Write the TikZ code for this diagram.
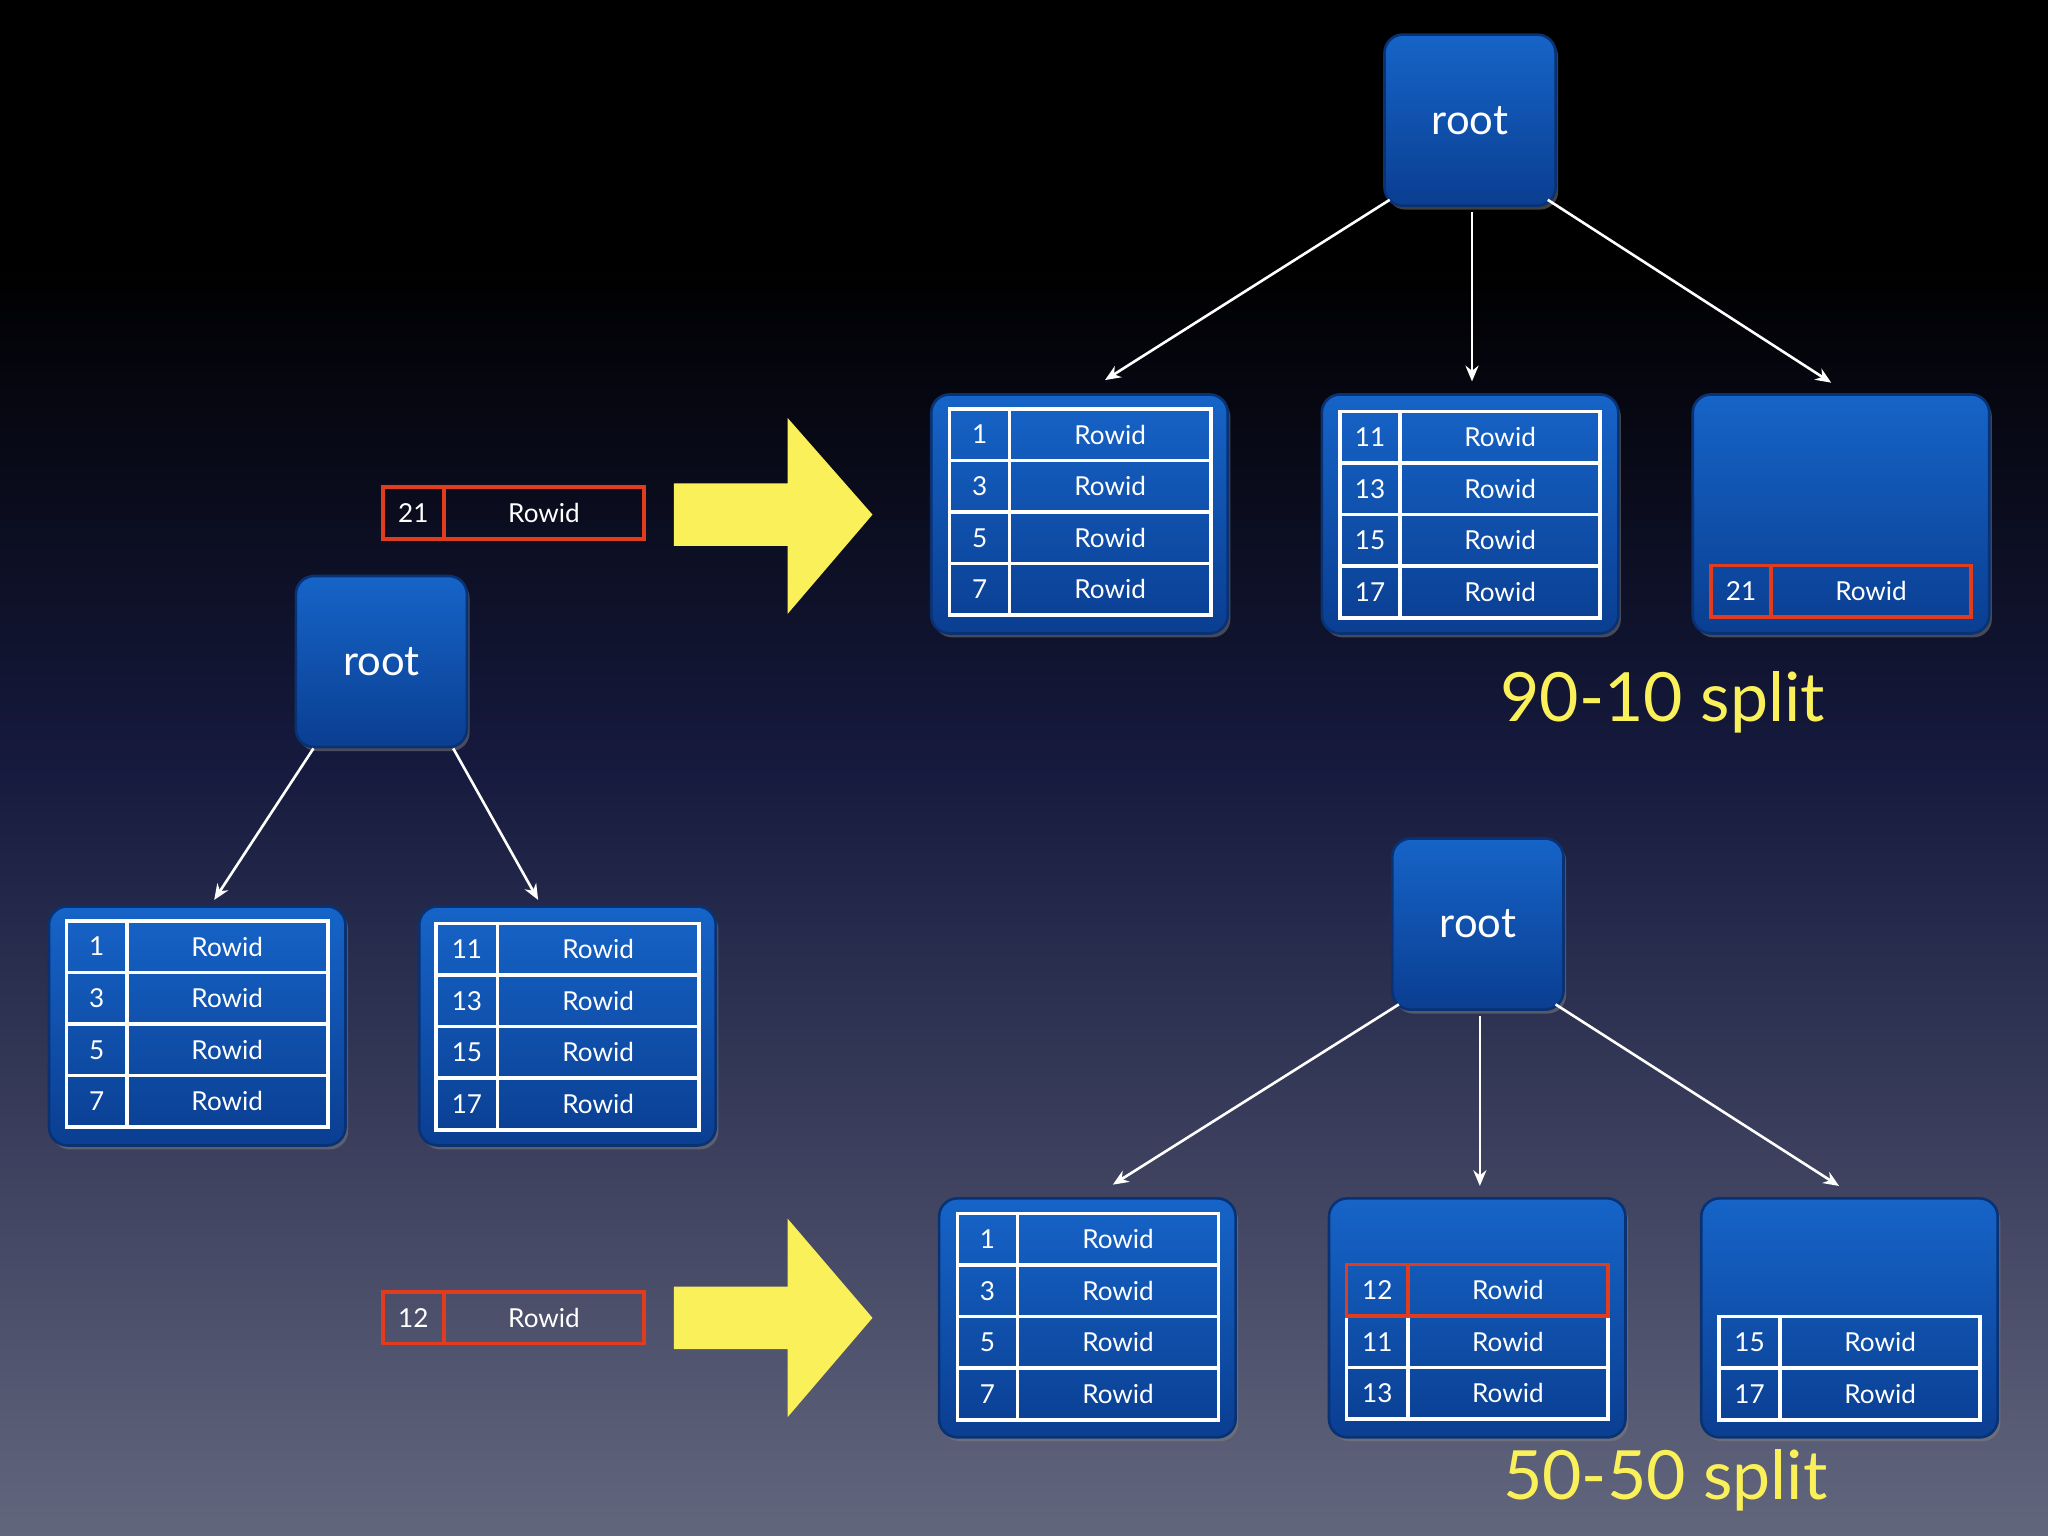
\documentclass[tikz,border=0pt]{standalone}
\usepackage{fontspec}
\setmainfont{Lato}
\usetikzlibrary{shadows,arrows.meta}
\definecolor{bgbot}{RGB}{98,102,125}
\definecolor{bgmid}{RGB}{22,26,62}
\definecolor{btop}{RGB}{22,100,200}
\definecolor{bbot}{RGB}{10,62,145}
\definecolor{ylw}{RGB}{250,240,90}
\definecolor{redb}{RGB}{225,60,30}
\tikzset{
 box/.style={draw=bbot!80!black,line width=1pt,rounded corners=7pt,top color=btop,bottom color=bbot,drop shadow={opacity=0.5,shadow xshift=1pt,shadow yshift=-1.5pt}},
 leaf/.style={box,minimum width=113.5pt,minimum height=91.5pt,inner sep=0},
 rootn/.style={box,minimum width=65.5pt,minimum height=65.5pt,text=white,font=\fontsize{16}{16}\selectfont},
 cell/.style={draw=#1,line width=1.4pt},
 txt/.style={text=white,font=\fontsize{10}{10}\selectfont},
 conn/.style={draw=white,line width=1pt,-{Stealth[length=6pt,width=5pt]}},
 lbl/.style={text=ylw,font=\fontsize{26}{26}\selectfont},
 arr/.style={fill=ylw,draw=none}
}
\newcommand{\tabrows}[6]{% x1 xdiv x2 ytop color list
 \foreach \n [count=\i from 0] in {#6}{
  \pgfmathsetmacro{\ya}{#4+39.5*\i}
  \pgfmathsetmacro{\yb}{#4+39.5*(\i+1)}
  \draw[cell=#5] (#1,\ya) rectangle (#3,\yb);
  \draw[cell=#5] (#2,\ya) -- (#2,\yb);
  \node[txt] at ({(#1+#2)/2},{(\ya+\yb)/2}) {\n};
  \node[txt] at ({(#2+#3)/2},{(\ya+\yb)/2}) {Rowid};
 }}
\begin{document}
\begin{tikzpicture}[x=0.5pt,y=-0.5pt]
\useasboundingbox (0,0) rectangle (1568,1176);
\fill[black] (0,0) rectangle (1568,200);
\shade[top color=black,bottom color=bgmid] (0,200) rectangle (1568,588.5);
\shade[top color=bgmid,bottom color=bgbot] (0,588) rectangle (1568,1176);
% roots
\node[rootn] (r1) at (1125.5,92) {root};
\node[rootn] (r2) at (292,506.5) {root};
\node[rootn] (r3) at (1131.5,707.5) {root};
% leaves
\node[leaf] (A) at (826.5,393.5) {};
\node[leaf] (B) at (1125.5,393.5) {};
\node[leaf] (C) at (1409.5,393.5) {};
\node[leaf] (D) at (151,785.5) {};
\node[leaf] (E) at (434.5,785.5) {};
\node[leaf] (F) at (832.5,1009) {};
\node[leaf] (G) at (1131,1009) {};
\node[leaf] (H) at (1416,1009) {};
% tables
\tabrows{727}{773}{927}{313}{white}{1,3,5,7}
\tabrows{1026}{1072}{1225}{315}{white}{11,13,15,17}
\tabrows{1310}{1356}{1509}{433}{redb}{21}
\tabrows{51}{97}{251}{705}{white}{1,3,5,7}
\tabrows{334}{381}{535}{707}{white}{11,13,15,17}
\tabrows{733}{779}{933}{929}{white}{1,3,5,7}
\tabrows{1031}{1078}{1231}{1007.5}{white}{11,13}
\tabrows{1031}{1078}{1231}{968}{redb}{12}
\tabrows{1316}{1363}{1516}{1008}{white}{15,17}
\tabrows{293}{340}{493}{373}{redb}{21}
\tabrows{293}{340}{493}{989}{redb}{12}
% connectors
\coordinate (a1) at (846,291); \coordinate (b1) at (1127,292); \coordinate (c1) at (1402,293);
\coordinate (d1) at (164,689); \coordinate (e1) at (412,689);
\coordinate (f1) at (852,907); \coordinate (g1) at (1133,908); \coordinate (h1) at (1408,908);
\draw[conn] (1064,153) -- (a1);
\draw[conn] (1127,162) -- (b1);
\draw[conn] (1185,153) -- (c1);
\draw[conn] (240,573) -- (d1);
\draw[conn] (347,573) -- (e1);
\draw[conn] (1071,769) -- (f1);
\draw[conn] (1133,778) -- (g1);
\draw[conn] (1191,769) -- (h1);
% yellow arrows
\fill[arr] (516,370) -- (603,370) -- (603,320) -- (668,394) -- (603,470) -- (603,418) -- (516,418) -- cycle;
\fill[arr] (516,985) -- (603,985) -- (603,933) -- (668,1009) -- (603,1085) -- (603,1033) -- (516,1033) -- cycle;
% labels
\node[lbl] (l1) at (1273,538) {90-10 split};
\node[lbl] (l2) at (1275,1133) {50-50 split};
\end{tikzpicture}
\end{document}
